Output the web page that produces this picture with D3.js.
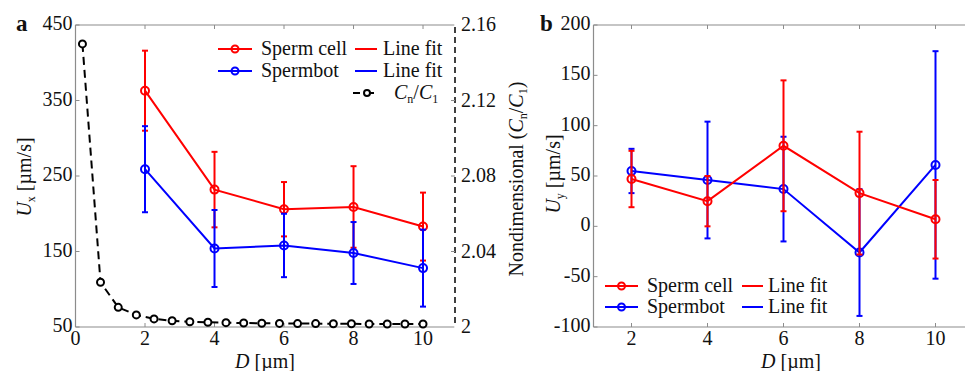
<!DOCTYPE html>
<html><head><meta charset="utf-8">
<script src="https://cdn.jsdelivr.net/npm/d3@7"></script>
<style>body{margin:0;background:#fff}svg{display:block}</style>
</head><body><svg id="c" width="965" height="371" font-family="'Liberation Serif', 'Times New Roman', Times, 'DejaVu Serif', serif"></svg>
<script>
// ---- data ----
const D = [2, 4, 6, 8, 10];
const uxSperm = [363, 232, 206, 209, 183];
const uxSpermErr = [53, 50, 36, 54, 45];
const uxBot = [259, 154, 158, 148, 128];
const uxBotErr = [57, 51, 42, 41, 51];
const ratioD = [0.2, 0.72, 1.23, 1.75, 2.26, 2.78, 3.29, 3.81, 4.33, 4.84, 5.36, 5.87, 6.39, 6.91, 7.42, 7.94, 8.45, 8.97, 9.48, 10.0];
const ratioCn = [2.150, 2.0237, 2.0104, 2.0064, 2.0043, 2.0033, 2.0028, 2.0025, 2.0023, 2.0021, 2.0020, 2.0019, 2.0018, 2.0018, 2.0017, 2.0017, 2.0016, 2.0016, 2.0016, 2.0016];
const uySperm = [47, 25, 80, 33, 7];
const uySpermErr = [28, 25, 65, 61, 39];
const uyBot = [55, 46, 37, -26, 61];
const uyBotErr = [22, 58, 52, 63, 113];
const xTicksA = [0, 2, 4, 6, 8, 10];
const yTicksA = [50, 150, 250, 350, 450];
const yTicksR = [2, 2.04, 2.08, 2.12, 2.16];
const xTicksB = [2, 4, 6, 8, 10];
const yTicksB = [-100, -50, 0, 50, 100, 150, 200];

const svg = d3.select("#c");
const RED = "#ff0000", BLUE = "#0000ff", GRAY = "#8c8c8c", INK = "#111";
const FS = 20;

// scales
const xa = d3.scaleLinear().domain([0, 10.9]).range([75.5, 454.3]);
const ya = d3.scaleLinear().domain([50, 450]).range([327, 25]);
const yr = d3.scaleLinear().domain([2, 2.16]).range([327, 25]);
const xb = d3.scaleLinear().domain([1, 11]).range([593.5, 973.5]);
const yb = d3.scaleLinear().domain([-100, 200]).range([327, 25]);

function txt(x, y) {
  return svg.append("text").attr("x", x).attr("y", y).attr("font-size", FS).attr("fill", INK);
}

function frame(x, y, xt, yt) {
  const g = svg.append("g");
  const [x0, x1] = x.range(), [y0, y1] = y.range();
  g.append("line").attr("x1", x0).attr("x2", x0).attr("y1", y0).attr("y2", y1).attr("stroke", GRAY).attr("stroke-width", 1.2);
  g.append("line").attr("x1", x0).attr("x2", x1).attr("y1", y0).attr("y2", y0).attr("stroke", GRAY).attr("stroke-width", 1.2);
  g.append("line").attr("x1", x0).attr("x2", x1).attr("y1", y1).attr("y2", y1).attr("stroke", GRAY).attr("stroke-width", 1.2);
  xt.forEach(t => {
    g.append("line").attr("x1", x(t)).attr("x2", x(t)).attr("y1", y0).attr("y2", y0 - 4).attr("stroke", GRAY);
    g.append("line").attr("x1", x(t)).attr("x2", x(t)).attr("y1", y1).attr("y2", y1 + 4).attr("stroke", GRAY);
    txt(x(t), 345).attr("text-anchor", "middle").text(t);
  });
  yt.forEach(t => {
    g.append("line").attr("x1", x0).attr("x2", x0 + 4).attr("y1", y(t)).attr("y2", y(t)).attr("stroke", GRAY);
    txt(x0 - 3, y(t) + 5).attr("text-anchor", "end").text(t);
  });
  return g;
}

function series(g, x, y, xs, vs, es, color) {
  const gg = g.append("g");
  xs.forEach((d, i) => {
    const xp = x(d), t = y(vs[i] + es[i]), b = y(vs[i] - es[i]);
    gg.append("line").attr("x1", xp).attr("x2", xp).attr("y1", t).attr("y2", b).attr("stroke", color).attr("stroke-width", 2);
    [t, b].forEach(yy => gg.append("line").attr("x1", xp - 3).attr("x2", xp + 3).attr("y1", yy).attr("y2", yy).attr("stroke", color).attr("stroke-width", 2));
  });
  const line = d3.line().x((d, i) => x(xs[i])).y(d => y(d));
  gg.append("path").attr("d", line(vs)).attr("fill", "none").attr("stroke", color).attr("stroke-width", 2);
  gg.selectAll(null).data(vs).enter().append("circle")
    .attr("cx", (d, i) => x(xs[i])).attr("cy", d => y(d)).attr("r", 4)
    .attr("fill", "none").attr("stroke", color).attr("stroke-width", 2);
}

// ---------- Panel a ----------
const ga = frame(xa, ya, xTicksA, yTicksA);
ga.append("line").attr("x1", 455).attr("x2", 455).attr("y1", 27).attr("y2", 327).attr("stroke", "#000").attr("stroke-width", 1.5).attr("stroke-dasharray", "6,4");
yTicksR.forEach(t => {
  if (t > 2 && t < 2.16) ga.append("line").attr("x1", 455).attr("x2", 451).attr("y1", yr(t)).attr("y2", yr(t)).attr("stroke", GRAY);
  txt(461, yr(t) + 6).text(t === 2 ? "2" : t.toFixed(2));
});
const ratioLine = d3.line().x((d, i) => xa(ratioD[i])).y(d => yr(d));
ga.append("path").attr("d", ratioLine(ratioCn)).attr("fill", "none").attr("stroke", "#000").attr("stroke-width", 2).attr("stroke-dasharray", "8,5");
ga.selectAll(null).data(ratioCn).enter().append("circle")
  .attr("cx", (d, i) => xa(ratioD[i])).attr("cy", d => yr(d)).attr("r", 3.5)
  .attr("fill", "#fff").attr("stroke", "#000").attr("stroke-width", 2);
series(ga, xa, ya, D, uxSperm, uxSpermErr, RED);
series(ga, xa, ya, D, uxBot, uxBotErr, BLUE);

// ---------- Panel b ----------
const gb = frame(xb, yb, xTicksB, yTicksB);
series(gb, xb, yb, D, uyBot, uyBotErr, BLUE);
series(gb, xb, yb, D, uySperm, uySpermErr, RED);

// ---------- labels ----------
txt(16, 31).attr("font-size", 23).attr("font-weight", "bold").text("a");
txt(540, 31).attr("font-size", 23).attr("font-weight", "bold").text("b");

function xLabel(cx) {
  const t = txt(cx, 368).attr("text-anchor", "middle");
  t.append("tspan").attr("font-style", "italic").text("D");
  t.append("tspan").text(" [µm]");
}
xLabel(265); xLabel(791);

function rot(x, cy) {
  return svg.append("text").attr("transform", `translate(${x},${cy}) rotate(-90)`).attr("text-anchor", "middle").attr("font-size", FS).attr("fill", INK);
}
function yLabel(x, cy, sub) {
  const t = rot(x, cy);
  t.append("tspan").attr("font-style", "italic").text("U");
  t.append("tspan").attr("font-size", 12).attr("dy", 4).text(sub);
  t.append("tspan").attr("dy", -4).text(" [µm/s]");
}
yLabel(31, 177, "x");
yLabel(560, 174, "y");

{
  const t = rot(523, 179);
  t.append("tspan").text("Nondimensional (");
  t.append("tspan").attr("font-style", "italic").text("C");
  t.append("tspan").attr("font-size", 12).attr("dy", 4).text("n");
  t.append("tspan").attr("dy", -4).text("/");
  t.append("tspan").attr("font-style", "italic").text("C");
  t.append("tspan").attr("font-size", 12).attr("dy", 4).text("1");
  t.append("tspan").attr("dy", -4).text(")");
}

// ---------- legends ----------
function legRow(lx0, lx1, y, color, label, fx0, fx1, tx, fitTx) {
  svg.append("line").attr("x1", lx0).attr("x2", lx1).attr("y1", y).attr("y2", y).attr("stroke", color).attr("stroke-width", 2);
  svg.append("circle").attr("cx", (lx0 + lx1) / 2).attr("cy", y).attr("r", 3.5).attr("fill", "none").attr("stroke", color).attr("stroke-width", 2);
  txt(tx, y + 6).text(label);
  svg.append("line").attr("x1", fx0).attr("x2", fx1).attr("y1", y).attr("y2", y).attr("stroke", color).attr("stroke-width", 2);
  txt(fitTx, y + 6).text("Line fit");
}
legRow(218, 252, 49, RED, "Sperm cell", 355, 377, 261, 383);
legRow(218, 252, 71, BLUE, "Spermbot", 355, 377, 261, 383);
svg.append("line").attr("x1", 353).attr("x2", 381).attr("y1", 93).attr("y2", 93).attr("stroke", "#000").attr("stroke-width", 2).attr("stroke-dasharray", "7,7");
svg.append("circle").attr("cx", 367).attr("cy", 93).attr("r", 3).attr("fill", "#fff").attr("stroke", "#000").attr("stroke-width", 2);
{
  const t = txt(394, 99);
  t.append("tspan").attr("font-style", "italic").text("C");
  t.append("tspan").attr("font-size", 12).attr("dy", 4).text("n");
  t.append("tspan").attr("dy", -4).text("/");
  t.append("tspan").attr("font-style", "italic").text("C");
  t.append("tspan").attr("font-size", 12).attr("dy", 4).text("1");
}
legRow(605, 638, 286, RED, "Sperm cell", 742, 763, 647, 768);
legRow(605, 638, 307, BLUE, "Spermbot", 742, 763, 647, 768);
</script></body></html>
